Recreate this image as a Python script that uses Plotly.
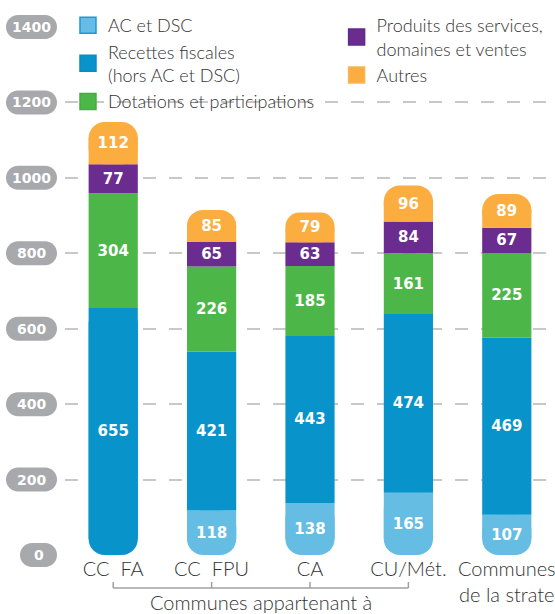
import plotly.graph_objects as go

# ---------------- data ----------------
categories = ["CC\u00a0\u00a0FA", "CC\u00a0\u00a0FPU", "CA", "CU/Mét.", "Communes<br>de la strate"]
series_names = [
    "AC et DSC",
    "Recettes fiscales<br>(hors AC et DSC)",
    "Dotations et participations",
    "Produits des services,<br>domaines et ventes",
    "Autres",
]
ac_dsc = [0, 118, 138, 165, 107]
recettes = [655, 421, 443, 474, 469]
dotations = [304, 226, 185, 161, 225]
produits = [77, 65, 63, 84, 67]
autres = [112, 85, 79, 96, 89]
y_ticks = [0, 200, 400, 600, 800, 1000, 1200, 1400]
group_label = "Communes appartenant à"
grouped_categories = categories[:4]

# ---------------- style ----------------
colors = ["#66bde3", "#0893cb", "#4cb748", "#6a2c8e", "#fbad40"]
edge_colors = ["#1b9ad6", "#0a8cc2", "#45ad42", "#62288a", "#f7b553"]
legend_of = ["legend", "legend", "legend", "legend2", "legend2"]
TEXT_FONT = "Lato"
NUM_FONT = "DejaVu Sans"
W, H = 555, 614
M_L, M_R, M_T, M_B = 65, 0, 27, 59
Y_RANGE = [0, 1400]
X_RANGE = [-0.49, 4.49]
RADIUS = 16
R_UNITS = RADIUS * (Y_RANGE[1] - Y_RANGE[0]) / (H - M_T - M_B)

series = [ac_dsc, recettes, dotations, produits, autres]
n = len(categories)

cum = [[0] * n]
for s in series:
    cum.append([cum[-1][i] + s[i] for i in range(n)])
first = [min(k for k in range(len(series)) if series[k][i] > 0) for i in range(n)]
last = [max(k for k in range(len(series)) if series[k][i] > 0) for i in range(n)]

fig = go.Figure()

# legend-only swatches
for k in range(len(series)):
    fig.add_trace(go.Scatter(
        x=[None], y=[None], mode="markers", name=series_names[k],
        legendgroup=series_names[k], legend=legend_of[k],
        marker=dict(symbol="square", size=16, color=colors[k],
                    line=dict(color=edge_colors[k], width=1.5)),
        hoverinfo="skip",
    ))

bar_common = dict(width=0.5, textposition="inside", insidetextanchor="middle",
                  textangle=0, constraintext="none", hoverinfo="skip")
bar_font = dict(family=NUM_FONT, size=15, color="white", weight="bold")

for k, s in enumerate(series):
    for role in ["bottom", "mid", "top"]:
        xs, ys, bases, texts, cover_ys = [], [], [], [], []
        for i in range(n):
            v = s[i]
            if v <= 0:
                continue
            r = "bottom" if first[i] == k else ("top" if last[i] == k else "mid")
            if r != role:
                continue
            xs.append(categories[i])
            if role == "bottom":
                bases.append(cum[k + 1][i])
                ys.append(-v)
                cover_ys.append(-(v - R_UNITS))
            else:
                bases.append(cum[k][i])
                ys.append(v)
                cover_ys.append(v - R_UNITS)
            texts.append(str(v))
        if not xs:
            continue
        if role != "mid":
            # square under-layer so that only the outer end of the column stays rounded
            fig.add_trace(go.Bar(
                x=xs, y=cover_ys, base=bases, name=series_names[k],
                legendgroup=series_names[k], showlegend=False,
                marker=dict(color=colors[k], line=dict(width=0), cornerradius=0),
                **bar_common,
            ))
        fig.add_trace(go.Bar(
            x=xs, y=ys, base=bases, text=texts, name=series_names[k],
            legendgroup=series_names[k], showlegend=False,
            marker=dict(color=colors[k], line=dict(width=0),
                        cornerradius=0 if role == "mid" else RADIUS),
            textfont=bar_font,
            **bar_common,
        ))

# ---------------- y tick pills ----------------
shapes = []
annotations = []
for t in y_ticks:
    label = str(t)
    w = 37 if len(label) == 1 else 51
    xr = -8
    xl = xr - w
    r = 12
    kk = 0.5523 * r
    path = (f"M{xl + r},{-r} L{xr - r},{-r} "
            f"C{xr - r + kk},{-r} {xr},{-kk} {xr},0 "
            f"C{xr},{kk} {xr - r + kk},{r} {xr - r},{r} "
            f"L{xl + r},{r} "
            f"C{xl + r - kk},{r} {xl},{kk} {xl},0 "
            f"C{xl},{-kk} {xl + r - kk},{-r} {xl + r},{-r} Z")
    shapes.append(dict(
        type="path", xref="paper", yref="y domain",
        xsizemode="pixel", ysizemode="pixel",
        xanchor=0, yanchor=(t - Y_RANGE[0]) / (Y_RANGE[1] - Y_RANGE[0]),
        path=path, fillcolor="#a7a9ac", line=dict(width=0), layer="above",
    ))
    annotations.append(dict(
        xref="paper", yref="y", x=0, y=t, xshift=(xl + xr) / 2,
        text=label, showarrow=False,
        font=dict(family=NUM_FONT, size=14, color="white", weight="bold"),
        xanchor="center", yanchor="middle",
    ))

# ---------------- bracket under grouped categories ----------------
bracket_color = "#a0a0a0"
shapes.append(dict(
    type="line", xref="x", yref="paper", ysizemode="pixel", yanchor=0,
    x0=categories.index(grouped_categories[0]), x1=categories.index(grouped_categories[-1]),
    y0=-33, y1=-33, line=dict(color=bracket_color, width=1.5),
))
for c in grouped_categories:
    xi = categories.index(c)
    shapes.append(dict(
        type="line", xref="x", yref="paper", ysizemode="pixel", yanchor=0,
        x0=xi, x1=xi, y0=-33, y1=-27, line=dict(color=bracket_color, width=1.5),
    ))
annotations.append(dict(
    xref="x", yref="paper", x=(len(grouped_categories) - 1) / 2, y=0, yshift=-47,
    text=group_label, showarrow=False,
    font=dict(family=TEXT_FONT, size=20, color="#333333", weight=300),
    xanchor="center", yanchor="middle",
))

legend_font = dict(family=TEXT_FONT, size=18, color="#333333", weight=300)
fig.update_layout(
    width=W, height=H,
    margin=dict(l=M_L, r=M_R, t=M_T, b=M_B, autoexpand=False),
    barmode="overlay",
    plot_bgcolor="white", paper_bgcolor="white",
    xaxis=dict(type="category", range=X_RANGE, showgrid=False, showline=False, ticks="",
               categoryorder="array", categoryarray=categories,
               tickfont=dict(family=TEXT_FONT, size=20, color="#333333", weight=300)),
    yaxis=dict(range=Y_RANGE, tickvals=y_ticks, showticklabels=False,
               gridcolor="#c8c8c8", griddash="13px,13px", gridwidth=2,
               zeroline=False, showline=False),
    legend=dict(xref="container", yref="container", x=0.1225, y=0.9886,
                xanchor="left", yanchor="top",
                bgcolor="rgba(0,0,0,0)", font=legend_font, traceorder="normal"),
    legend2=dict(xref="container", yref="container", x=0.6065, y=0.9886,
                 xanchor="left", yanchor="top",
                 bgcolor="rgba(0,0,0,0)", font=legend_font, traceorder="normal"),
    shapes=shapes,
    annotations=annotations,
    showlegend=True,
)

fig.write_html("out.html",
               config={"displayModeBar": False},
               post_script="document.body.style.margin='0';document.body.style.overflow='hidden';")
